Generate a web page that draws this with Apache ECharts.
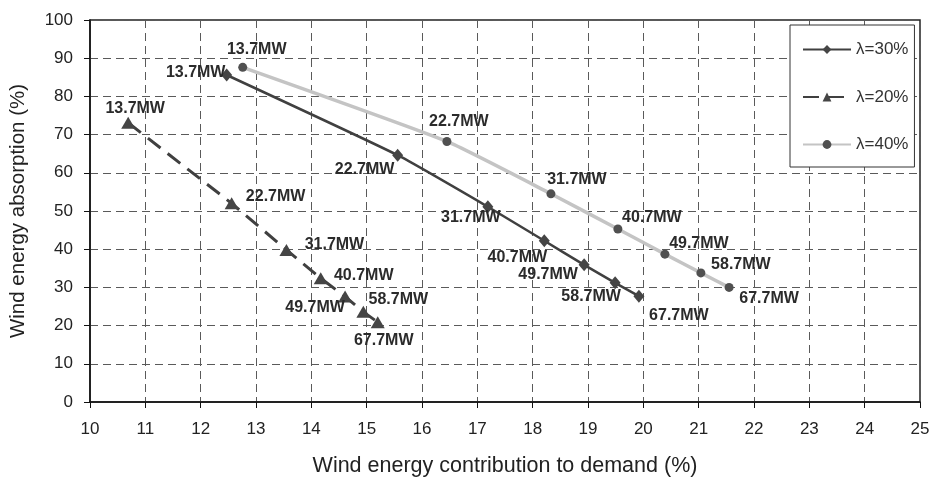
<!DOCTYPE html>
<html>
<head>
<meta charset="utf-8">
<script src="https://cdn.jsdelivr.net/npm/echarts@6/dist/echarts.min.js"></script>
<style>
  html, body { margin: 0; padding: 0; background: #fff; }
  #chart { width: 934px; height: 478px; }
</style>
</head>
<body>
<div id="chart"></div>
<script>
// Installed wind capacity at each operating point
const powerLabels = ['13.7MW', '22.7MW', '31.7MW', '40.7MW', '49.7MW', '58.7MW', '67.7MW'];

// λ = 30 %
const contrib30 = [12.47, 15.56, 17.19, 18.21, 18.93, 19.49, 19.92];
const absorb30  = [85.6, 64.6, 51.1, 42.2, 35.9, 31.2, 27.7];

// λ = 20 %
const contrib20 = [10.69, 12.56, 13.55, 14.17, 14.61, 14.94, 15.20];
const absorb20  = [73.1, 52.0, 39.8, 32.4, 27.6, 23.6, 20.9];

// λ = 40 %
const contrib40 = [12.76, 16.45, 18.33, 19.54, 20.39, 21.04, 21.55];
const absorb40  = [87.6, 68.2, 54.5, 45.3, 38.7, 33.8, 30.0];

const xTicks = { min: 10, max: 25, step: 1 };
const yTicks = { min: 0, max: 100, step: 10 };

// Where each capacity label sits relative to its marker (px)
const labelShift30 = [[-31, -2], [-33, 14], [-17, 11], [-27, 17], [-36, 10], [-24, 14], [40, 19]];
const labelShift20 = [[7, -14], [44, -7], [48, -5], [43, -3], [-30, 11], [35, -12], [6, 18]];
const labelShift40 = [[14, -18], [12, -20], [26, -14], [34, -11], [34, -11], [40, -8], [40, 11]];

const FONT = '"Liberation Sans", Arial, Helvetica, sans-serif';

function buildPoints(xs, ys, shifts) {
  return xs.map((x, i) => ({
    value: [x, ys[i]],
    name: powerLabels[i],
    label: { offset: shifts[i] }
  }));
}

const pointLabel = {
  show: true,
  position: 'inside',
  formatter: p => p.name,
  fontFamily: FONT,
  fontSize: 16,
  fontWeight: 'bold',
  color: '#2b2b2b'
};

const chart = echarts.init(document.getElementById('chart'), null, { renderer: 'canvas' });

chart.setOption({
  animation: false,
  backgroundColor: '#ffffff',
  grid: {
    left: 90, right: 14, top: 20, bottom: 76,
    show: true,
    borderColor: '#222',
    borderWidth: 1.5,
    containLabel: false,
    outerBoundsMode: 'none'
  },
  legend: {
    orient: 'vertical',
    left: 790,
    top: 25,
    padding: [16, 6, 14, 12],
    itemGap: 30.5,
    itemWidth: 48,
    itemHeight: 11,
    backgroundColor: '#ffffff',
    borderColor: '#333',
    borderWidth: 1,
    borderRadius: 0,
    textStyle: { fontFamily: FONT, fontSize: 17, color: '#333' },
    data: ['λ=30%', 'λ=20%', 'λ=40%']
  },
  xAxis: {
    type: 'value',
    min: xTicks.min, max: xTicks.max, interval: xTicks.step,
    name: 'Wind energy contribution to demand (%)',
    nameLocation: 'middle',
    nameGap: 53,
    nameTextStyle: { fontFamily: FONT, fontSize: 21.5, color: '#222' },
    axisLine: { show: true, lineStyle: { color: '#111', width: 1.5 } },
    axisTick: { show: true, length: 6, lineStyle: { color: '#111', width: 1 } },
    axisLabel: { fontFamily: FONT, fontSize: 17, color: '#222', margin: 19 },
    splitLine: { show: true, lineStyle: { color: '#5a5a5a', width: 1, type: [8, 5] } }
  },
  yAxis: {
    type: 'value',
    min: yTicks.min, max: yTicks.max, interval: yTicks.step,
    name: 'Wind energy absorption (%)',
    nameLocation: 'middle',
    nameGap: 61,
    nameTextStyle: { fontFamily: FONT, fontSize: 20.5, color: '#222' },
    axisLine: { show: true, lineStyle: { color: '#111', width: 1.5 } },
    axisTick: { show: true, length: 6, lineStyle: { color: '#111', width: 1 } },
    axisLabel: { fontFamily: FONT, fontSize: 17, color: '#222', margin: 17 },
    splitLine: { show: true, lineStyle: { color: '#5a5a5a', width: 1, type: [8, 5] } }
  },
  series: [
    {
      name: 'λ=40%',
      type: 'line',
      z: 2,
      smooth: 0.15,
      symbol: 'circle',
      symbolSize: 9,
      itemStyle: { color: '#505050' },
      lineStyle: { color: '#c4c4c4', width: 3.5 },
      label: pointLabel,
      data: buildPoints(contrib40, absorb40, labelShift40)
    },
    {
      name: 'λ=30%',
      type: 'line',
      z: 3,
      smooth: 0.15,
      symbol: 'diamond',
      symbolSize: [11, 13],
      itemStyle: { color: '#454545' },
      lineStyle: { color: '#404040', width: 2.5 },
      label: pointLabel,
      data: buildPoints(contrib30, absorb30, labelShift30)
    },
    {
      name: 'λ=20%',
      type: 'line',
      z: 3,
      smooth: false,
      symbol: 'triangle',
      symbolSize: [14, 12],
      itemStyle: { color: '#454545' },
      lineStyle: { color: '#404040', width: 3, type: [16, 9] },
      label: pointLabel,
      data: buildPoints(contrib20, absorb20, labelShift20)
    }
  ]
});
</script>
</body>
</html>
